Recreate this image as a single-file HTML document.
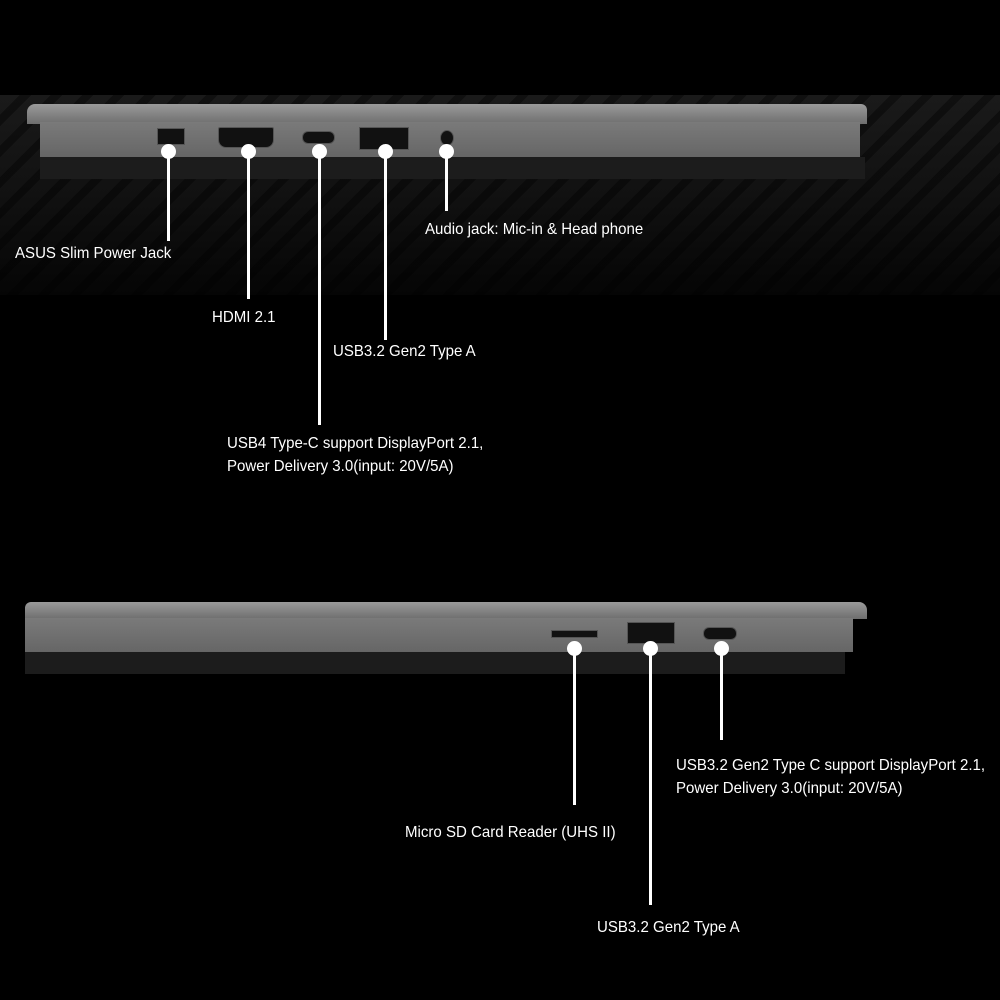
<!DOCTYPE html>
<html><head><style>
body{margin:0;width:1000px;height:1000px;background:#000;position:relative;overflow:hidden;font-family:"Liberation Sans",sans-serif;}
div{position:absolute;}
.t{color:#fff;font-size:16px;line-height:23px;white-space:nowrap;transform:scaleX(0.94);transform-origin:0 0;}
.l{background:#fff;width:3px;}
.d{background:#fff;width:15px;height:15px;border-radius:50%;}
.p{background:#111;border:1px solid #555;}
</style></head><body>
<div style="left:0;top:95px;width:1000px;height:200px;background:linear-gradient(#1a1a1a,#111 50%,#050505);"></div>
<div style="left:0;top:95px;width:1000px;height:200px;background:repeating-linear-gradient(135deg,transparent 0 14px,rgba(0,0,0,.4) 14px 22px);"></div>
<!-- top laptop -->
<div style="left:27px;top:104px;width:840px;height:20px;background:linear-gradient(#9a9a9a,#6e6e6e);border-radius:8px 6px 0 0;"></div>
<div style="left:40px;top:122px;width:820px;height:35px;background:linear-gradient(#7a7a7a,#666);"></div>
<div style="left:40px;top:157px;width:825px;height:22px;background:#1c1c1c;"></div>
<div class="p" style="left:157px;top:128px;width:26px;height:15px;"></div>
<div class="p" style="left:218px;top:127px;width:54px;height:19px;border-radius:2px 2px 8px 8px;"></div>
<div class="p" style="left:302px;top:131px;width:31px;height:11px;border-radius:6px;"></div>
<div class="p" style="left:359px;top:127px;width:48px;height:21px;"></div>
<div class="p" style="left:440px;top:130px;width:12px;height:14px;border-radius:50%;"></div>
<div class="l" style="left:167px;top:151px;height:90px;"></div><div class="d" style="left:161px;top:144px;"></div>
<div class="l" style="left:247px;top:151px;height:148px;"></div><div class="d" style="left:241px;top:144px;"></div>
<div class="l" style="left:318px;top:151px;height:274px;"></div><div class="d" style="left:312px;top:144px;"></div>
<div class="l" style="left:384px;top:151px;height:189px;"></div><div class="d" style="left:378px;top:144px;"></div>
<div class="l" style="left:445px;top:151px;height:60px;"></div><div class="d" style="left:439px;top:144px;"></div>
<div class="t" style="left:15px;top:242px;">ASUS Slim Power Jack</div>
<div class="t" style="left:212px;top:306px;">HDMI 2.1</div>
<div class="t" style="left:333px;top:340px;">USB3.2 Gen2 Type A</div>
<div class="t" style="left:425px;top:218px;">Audio jack: Mic-in &amp; Head phone</div>
<div class="t" style="left:227px;top:432px;">USB4 Type-C support DisplayPort 2.1,<br>Power Delivery 3.0(input: 20V/5A)</div>
<!-- bottom laptop -->
<div style="left:25px;top:602px;width:842px;height:17px;background:linear-gradient(#9a9a9a,#6e6e6e);border-radius:6px 8px 0 0;"></div>
<div style="left:25px;top:618px;width:828px;height:34px;background:linear-gradient(#7a7a7a,#666);"></div>
<div style="left:25px;top:652px;width:820px;height:22px;background:#1c1c1c;"></div>
<div class="p" style="left:551px;top:630px;width:45px;height:6px;"></div>
<div class="p" style="left:627px;top:622px;width:46px;height:20px;"></div>
<div class="p" style="left:703px;top:627px;width:32px;height:11px;border-radius:6px;"></div>
<div class="l" style="left:573px;top:648px;height:157px;"></div><div class="d" style="left:567px;top:641px;"></div>
<div class="l" style="left:649px;top:648px;height:257px;"></div><div class="d" style="left:643px;top:641px;"></div>
<div class="l" style="left:720px;top:648px;height:92px;"></div><div class="d" style="left:714px;top:641px;"></div>
<div class="t" style="left:405px;top:821px;">Micro SD Card Reader (UHS II)</div>
<div class="t" style="left:597px;top:916px;">USB3.2 Gen2 Type A</div>
<div class="t" style="left:676px;top:754px;">USB3.2 Gen2 Type C support DisplayPort 2.1,<br>Power Delivery 3.0(input: 20V/5A)</div>
</body></html>
